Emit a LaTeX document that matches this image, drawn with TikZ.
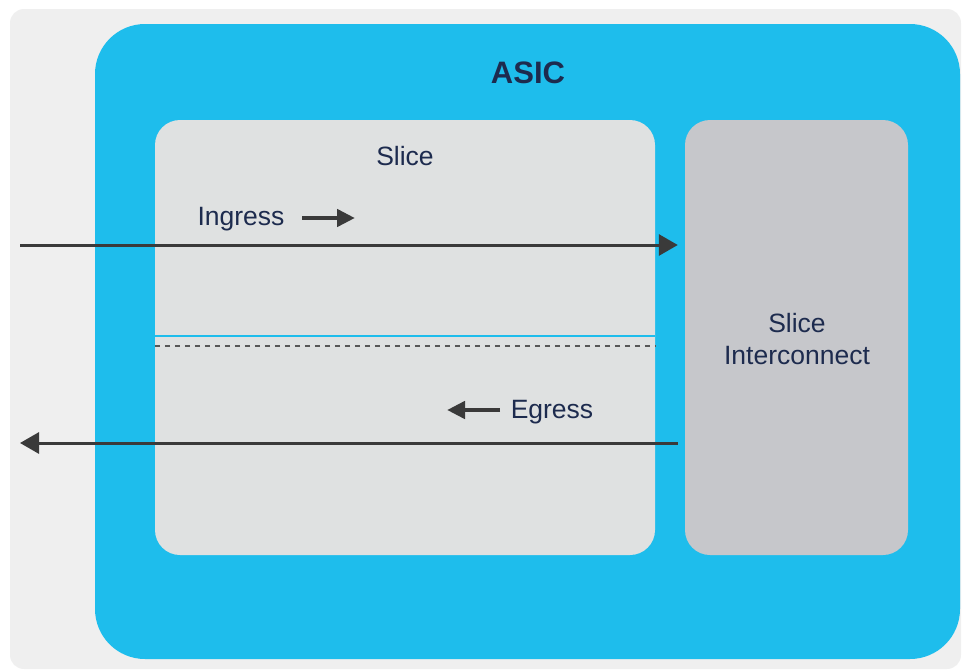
\documentclass[tikz,border=0pt]{standalone}
\usepackage{fontspec}
\setmainfont{Liberation Sans}
\usetikzlibrary{arrows.meta,positioning,calc}

\definecolor{panelgrey}{HTML}{EFEFEF}
\definecolor{asicblue}{HTML}{1EBDEC}
\definecolor{slicegrey}{HTML}{DFE1E1}
\definecolor{icgrey}{HTML}{C6C7CB}
\definecolor{arrowgrey}{HTML}{3A3A3A}
\definecolor{labelnavy}{HTML}{1D2B4E}

\tikzset{
  block/.style={rounded corners=25pt, inner sep=0pt},
  lbl/.style={text=labelnavy, font=\fontsize{26.5}{32}\selectfont, inner sep=0pt, align=center},
  flow/.style={arrowgrey, line width=3pt, -{Triangle[length=19pt,width=21pt]}},
  hint/.style={arrowgrey, line width=4.5pt, -{Triangle[length=18pt,width=17pt]}}
}

\begin{document}
\begin{tikzpicture}[x=1pt,y=-1pt]
    \useasboundingbox (0,0) rectangle (962,670);
    \fill[panelgrey, rounded corners=14pt] (10,9) rectangle (961,669);
    \node[block, fill=asicblue, rounded corners=50pt, minimum width=865, minimum height=635] (asic) at (527.5,341.5) {};
    \node[block, fill=slicegrey, minimum width=500, minimum height=435] (slice) at (405,337.5) {};
    \node[block, fill=icgrey, minimum width=223, minimum height=435] (ic) at (796.5,337.5) {};

    % split between ingress and egress halves
    \draw[asicblue, line width=2.5pt] ($(slice.west)+(0,-1.5)$) -- ($(slice.east)+(0,-1.5)$);
    \draw[arrowgrey!85, line width=2pt, dash pattern=on 5pt off 5pt] ($(slice.west)+(0,8.5)$) -- ($(slice.east)+(0,8.5)$);

    \node[lbl, font=\fontsize{31}{36}\selectfont\bfseries, anchor=base] (asiclbl) at (528,83) {ASIC};
    \node[lbl, anchor=base] (slicelbl) at (405,165) {Slice};
    \node[lbl] (iclbl) at (797,339) {Slice\\Interconnect};

    % ingress path
    \node[lbl, anchor=base] (inlbl) at (241,225) {Ingress};
    \coordinate (inL) at (20,245);
    \draw[flow, shorten >=7pt] (inL) -- (ic.west |- inL);
    \coordinate (inA) at (302,218);
    \draw[hint] (inA) -- ++(53,0);

    % egress path
    \node[lbl, anchor=base] (eglbl) at (552,418) {Egress};
    \coordinate (egL) at (20,443);
    \draw[flow, shorten <=7pt] (ic.west |- egL) -- (egL);
    \coordinate (egA) at (500,410);
    \draw[hint] (egA) -- ++(-53,0);
\end{tikzpicture}
\end{document}
